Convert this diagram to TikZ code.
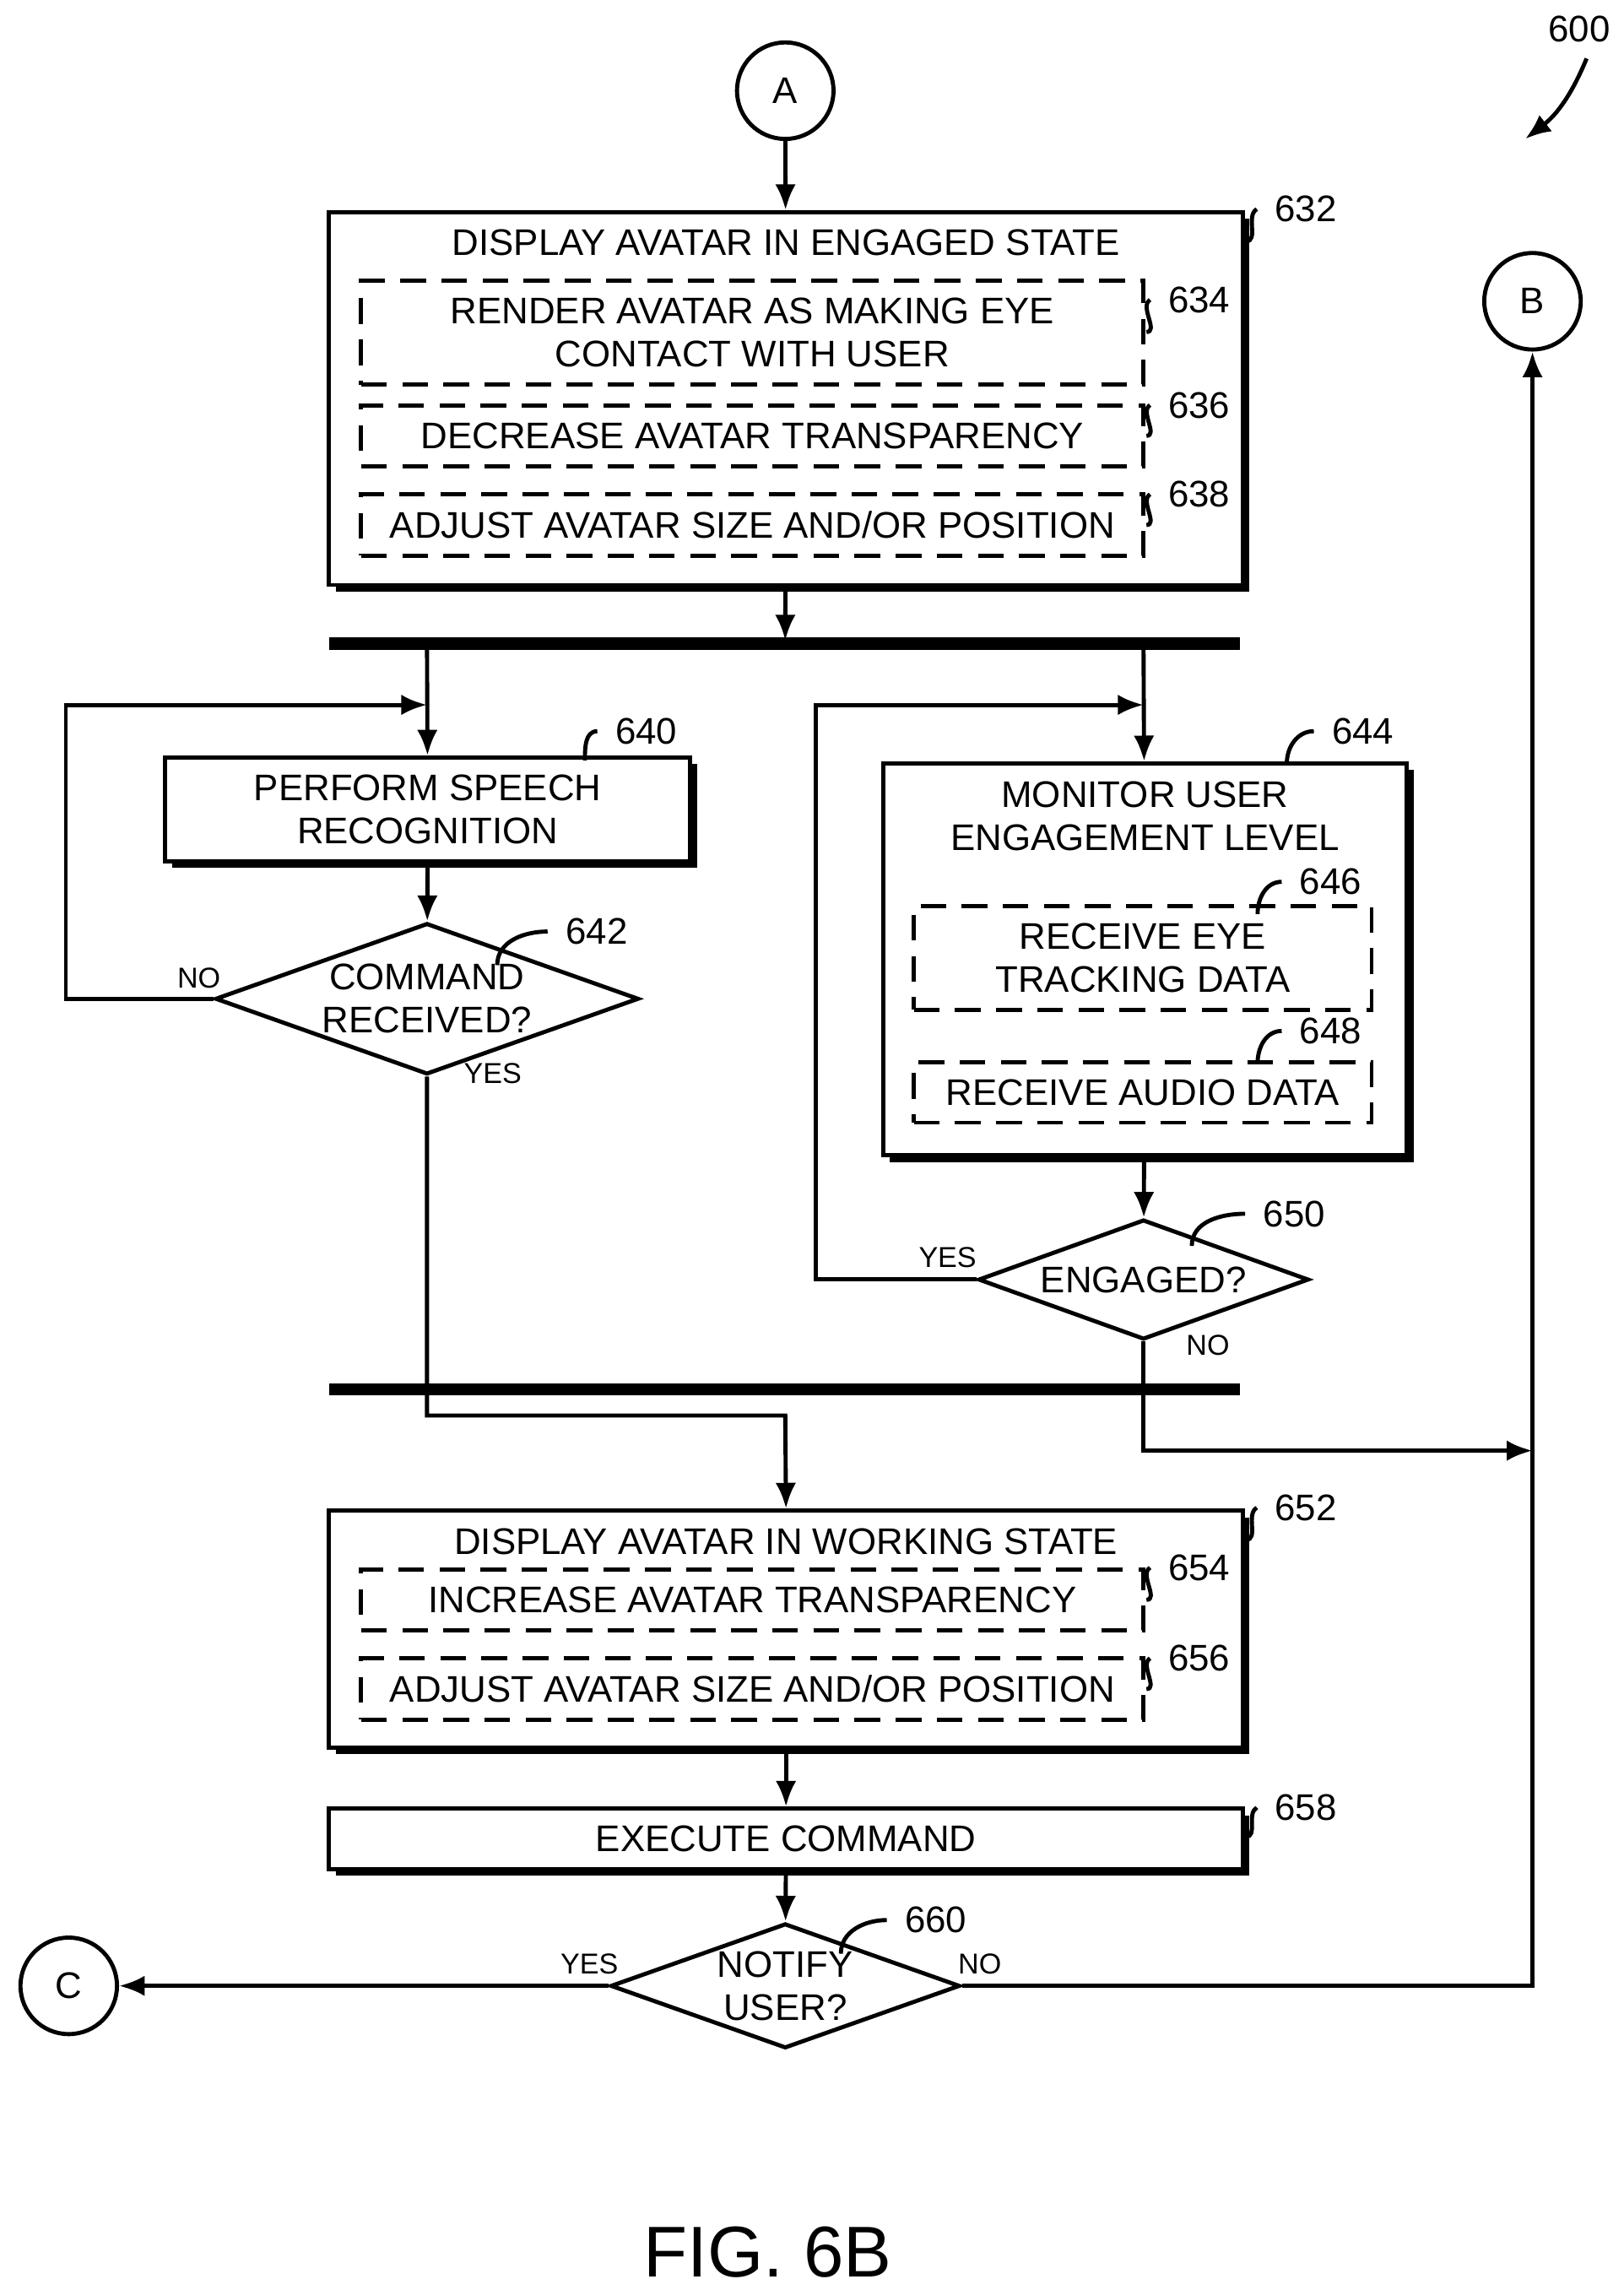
\documentclass[tikz,border=0pt]{standalone}
\usepackage{fontspec}
\setmainfont{Liberation Sans}
\usetikzlibrary{shapes.geometric,shadows,arrows.meta}
\tikzset{
  every node/.style={font=\fontsize{7.2}{8.4}\selectfont},
  box/.style={draw,thick,fill=white,minimum width=6.25cm,align=center,
    drop shadow={shadow xshift=1.3pt,shadow yshift=-1.3pt,fill=black,opacity=1}},
  sub/.style={draw,thick,dashed,dash pattern=on 5pt off 3pt,minimum width=5.35cm,align=center},
  dec/.style={diamond,aspect=2.8,draw,thick,fill=white,inner sep=0.5pt,align=center},
  term/.style={circle,draw,thick,minimum size=0.66cm},
  bar/.style={line width=2.4pt},
  flow/.style={thick,-{Latex[length=5pt,width=4pt]}},
  ref/.style={thick},
  yn/.style={font=\fontsize{5.6}{6.5}\selectfont}
}
\begin{document}
\begin{tikzpicture}
\useasboundingbox (0,0) rectangle (11.1,-15.66);
% terminals
\node[term] (A) at (5.37,-0.62) {A};
\node[term] (B) at (10.48,-2.06) {B};
\node[term] (C) at (0.47,-13.58) {C};
\node (n600) at (10.8,-0.2) {600};
\draw[flow] (10.85,-0.4) to[bend left=15] (10.43,-0.95);

% engaged state
\node[box,minimum height=2.55cm] (b632) at (5.375,-2.725) {};
\node at (5.375,-1.66) {DISPLAY AVATAR IN ENGAGED STATE};
\node[sub,minimum height=0.61cm] (b634) at (5.145,-2.275) {RENDER AVATAR AS MAKING EYE\\CONTACT WITH USER};
\node[sub,minimum height=0.40cm] (b636) at (5.145,-2.98) {DECREASE AVATAR TRANSPARENCY};
\node[sub,minimum height=0.42cm] (b638) at (5.145,-3.59) {ADJUST AVATAR SIZE AND/OR POSITION};
\node (n632) at (8.93,-1.43) {632};
\node (n634) at (8.2,-2.05) {634};
\node (n636) at (8.2,-2.77) {636};
\node (n638) at (8.2,-3.38) {638};
\draw[ref] (8.52,-1.65) to[out=0,in=-150] (n632.west);
\draw[ref] (7.84,-2.27) to[out=0,in=-150] (n634.west);
\draw[ref] (7.84,-2.98) to[out=0,in=-150] (n636.west);
\draw[ref] (7.84,-3.59) to[out=0,in=-150] (n638.west);

% fork
\coordinate (f1) at (2.25,-4.40);
\coordinate (f2) at (8.48,-4.40);
\draw[bar] (f1) -- (f2);
\draw[flow] (A) -- (b632);
\draw[flow] (b632) -- (5.37,-4.38);

% speech branch
\node[box,minimum width=3.59cm,minimum height=0.63cm] (b640) at (2.925,-5.535) {PERFORM SPEECH\\RECOGNITION};
\node (n640) at (4.42,-5.0) {640};
\draw[ref] (4.0,-5.2) to[out=90,in=180] (n640.west);
\node[dec,minimum width=2.68cm,minimum height=0.96cm] (d642) at (2.92,-6.83) {COMMAND\\RECEIVED?};
\node (n642) at (4.08,-6.37) {642};
\draw[ref] (3.4,-6.6) to[out=90,in=180] (n642.west);
\draw[flow] (2.92,-4.42) -- (b640);
\draw[flow] (b640) -- (d642);
\draw[flow] (d642.west) -- (0.45,-6.83) -- (0.45,-4.82) -- (2.92,-4.82);
\node[yn] at (1.36,-6.69) {NO};
\node[yn] at (3.37,-7.34) {YES};

% engagement branch
\node[box,minimum width=3.58cm,minimum height=2.68cm] (b644) at (7.83,-6.56) {};
\node[align=center] at (7.83,-5.58) {MONITOR USER\\ENGAGEMENT LEVEL};
\node[sub,minimum width=3.13cm,minimum height=0.60cm] (b646) at (7.815,-6.55) {RECEIVE EYE\\TRACKING DATA};
\node[sub,minimum width=3.13cm,minimum height=0.40cm] (b648) at (7.815,-7.47) {RECEIVE AUDIO DATA};
\node (n644) at (9.32,-5.0) {644};
\node (n646) at (9.1,-6.03) {646};
\node (n648) at (9.1,-7.05) {648};
\draw[ref] (8.8,-5.22) to[out=90,in=180] (n644.west);
\draw[ref] (8.6,-6.25) to[out=90,in=180] (n646.west);
\draw[ref] (8.6,-7.27) to[out=90,in=180] (n648.west);
\node[dec,minimum width=2.26cm,minimum height=0.82cm] (d650) at (7.82,-8.75) {ENGAGED?};
\node (n650) at (8.85,-8.3) {650};
\draw[ref] (8.15,-8.52) to[out=90,in=180] (n650.west);
\draw[flow] (7.82,-4.42) -- (b644);
\draw[flow] (b644) -- (d650);
\draw[flow] (d650.west) -- (5.58,-8.75) -- (5.58,-4.82) -- (7.82,-4.82);
\node[yn] at (6.48,-8.6) {YES};
\node[yn] at (8.26,-9.2) {NO};

% join
\coordinate (j1) at (2.25,-9.50);
\coordinate (j2) at (8.48,-9.50);
\draw[bar] (j1) -- (j2);
\draw[flow] (d650.south) -- (7.82,-9.92) -- (10.48,-9.92);

% working state
\node[box,minimum height=1.62cm] (b652) at (5.375,-11.14) {};
\node at (5.375,-10.54) {DISPLAY AVATAR IN WORKING STATE};
\node[sub,minimum height=0.40cm] (b654) at (5.145,-10.94) {INCREASE AVATAR TRANSPARENCY};
\node[sub,minimum height=0.42cm] (b656) at (5.145,-11.55) {ADJUST AVATAR SIZE AND/OR POSITION};
\node (n652) at (8.93,-10.31) {652};
\node (n654) at (8.2,-10.72) {654};
\node (n656) at (8.2,-11.34) {656};
\draw[ref] (8.52,-10.53) to[out=0,in=-150] (n652.west);
\draw[ref] (7.84,-10.94) to[out=0,in=-150] (n654.west);
\draw[ref] (7.84,-11.55) to[out=0,in=-150] (n656.west);
\draw[flow] (d642.south) -- (2.92,-9.68) -- (5.37,-9.68) -- (b652.north);

\node[box,minimum height=0.41cm] (b658) at (5.375,-12.575) {EXECUTE COMMAND};
\node (n658) at (8.93,-12.36) {658};
\draw[ref] (8.52,-12.56) to[out=0,in=-150] (n658.west);
\draw[flow] (b652) -- (b658);

\node[dec,minimum width=2.26cm,minimum height=0.84cm] (d660) at (5.37,-13.58) {NOTIFY\\USER?};
\node (n660) at (6.4,-13.13) {660};
\draw[ref] (5.75,-13.36) to[out=90,in=180] (n660.west);
\draw[flow] (b658) -- (d660);
\draw[flow] (d660.west) -- (C);
\draw[flow] (d660.east) -- (10.48,-13.58) -- (B);
\node[yn] at (4.03,-13.43) {YES};
\node[yn] at (6.7,-13.43) {NO};

\node[font=\fontsize{14}{16}\selectfont] at (5.25,-15.4) {FIG. 6B};
\end{tikzpicture}
\end{document}
